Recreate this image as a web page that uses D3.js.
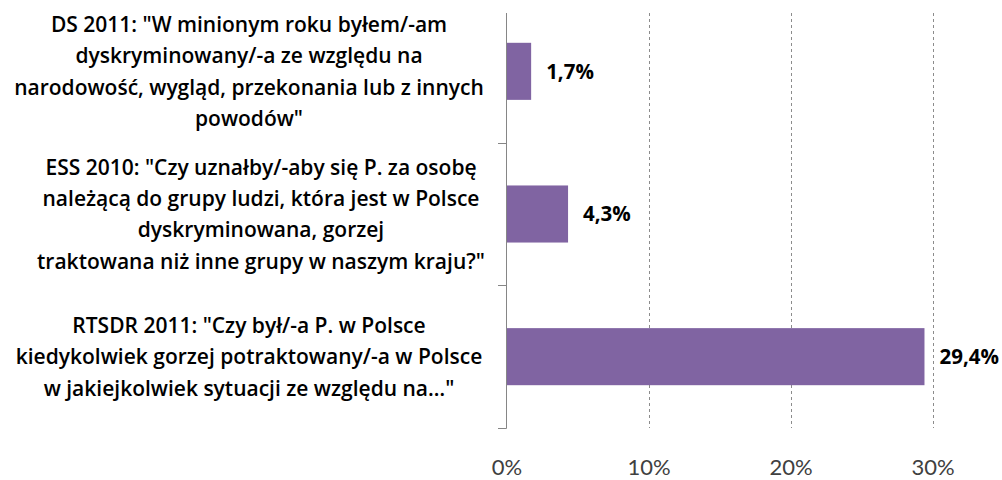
<!DOCTYPE html>
<html>
<head>
<meta charset="utf-8">
<script src="https://cdn.jsdelivr.net/npm/d3@7"></script>
<style>
  body { margin: 0; background: #fff; }
  svg { display: block; }
</style>
</head>
<body>
<svg width="1002" height="480"></svg>
<script>
// Data
var categories = ["DS 2011", "ESS 2010", "RTSDR 2011"];
var labelLines = [
  ['DS 2011: "W minionym roku byłem/-am', "dyskryminowany/-a ze względu na", "narodowość, wygląd, przekonania lub z innych", 'powodów"'],
  ['ESS 2010: "Czy uznałby/-aby się P. za osobę', "należącą do grupy ludzi, która jest w Polsce", "dyskryminowana, gorzej", 'traktowana niż inne grupy w naszym kraju?"'],
  ['RTSDR 2011: "Czy był/-a P. w Polsce', "kiedykolwiek gorzej potraktowany/-a w Polsce", 'w jakiejkolwiek sytuacji ze względu na…"']
];
var values = [1.7, 4.3, 29.4];
var xTicks = [0, 10, 20, 30];

var svg = d3.select("svg");

// Scales
var x = d3.scaleLinear().domain([0, 30]).range([507, 933]);
var y = d3.scaleBand().domain(categories).range([0, 428]).paddingInner(0.6).paddingOuter(0.3);
var plotTop = 13;

// Gridlines
svg.append("g")
  .selectAll("line")
  .data(xTicks.filter(function (d) { return d > 0; }))
  .enter()
  .append("line")
  .attr("x1", function (d) { return Math.round(x(d)) + 0.5; })
  .attr("x2", function (d) { return Math.round(x(d)) + 0.5; })
  .attr("y1", plotTop)
  .attr("y2", 428)
  .attr("stroke", "#8c8c8c")
  .attr("stroke-dasharray", "3,3");

// Bars
svg.append("g")
  .selectAll("rect")
  .data(values)
  .enter()
  .append("rect")
  .attr("x", x(0))
  .attr("y", function (d, i) { return y(categories[i]); })
  .attr("width", function (d) { return x(d) - x(0); })
  .attr("height", y.bandwidth())
  .attr("fill", "#8064a2");

// Value labels
svg.append("g")
  .selectAll("text")
  .data(values)
  .enter()
  .append("text")
  .attr("x", function (d) { return x(d) + 15; })
  .attr("y", function (d, i) { return y(categories[i]) + y.bandwidth() / 2; })
  .attr("dy", "0.36em")
  .style("font-family", "'Open Sans', sans-serif")
  .style("font-weight", "bold")
  .style("font-size", "20.5px")
  .attr("fill", "#000")
  .text(function (d) { return String(d).replace(".", ",") + "%"; });

// Vertical axis line with category boundary ticks
var yAxis = svg.append("g").attr("stroke", "#868686");
yAxis.append("line")
  .attr("x1", x(0) - 0.5).attr("x2", x(0) - 0.5)
  .attr("y1", plotTop).attr("y2", 428.5);
yAxis.selectAll(".tick")
  .data(categories)
  .enter()
  .append("line")
  .attr("x1", x(0) - 9).attr("x2", x(0) - 0.5)
  .attr("y1", function (d) { return Math.round(y(d) - y.step() * 0.3 + y.step()) + 0.5; })
  .attr("y2", function (d) { return Math.round(y(d) - y.step() * 0.3 + y.step()) + 0.5; });

// X tick labels
svg.append("g")
  .selectAll("text")
  .data(xTicks)
  .enter()
  .append("text")
  .attr("x", function (d) { return x(d); })
  .attr("y", 475)
  .attr("text-anchor", "middle")
  .style("font-family", "Lato, sans-serif")
  .style("font-size", "22px")
  .attr("fill", "#404040")
  .text(function (d) { return d + "%"; });

// Category labels
var lineGap = 31.3;
var catLabels = svg.append("g")
  .selectAll("text")
  .data(categories)
  .enter()
  .append("text")
  .attr("text-anchor", "middle")
  .style("font-family", "'Open Sans', sans-serif")
  .style("font-weight", "600")
  .style("font-size", "21px")
  .attr("fill", "#000");

catLabels.each(function (d, i) {
  var lines = labelLines[i];
  var cy = y(d) + y.bandwidth() / 2;
  var cx = i === 1 ? 261 : 249;
  var t = d3.select(this);
  lines.forEach(function (line, j) {
    t.append("tspan")
      .attr("x", cx)
      .attr("y", cy + (j - (lines.length - 1) / 2) * lineGap)
      .attr("dy", "0.36em")
      .text(line);
  });
});
</script>
</body>
</html>
